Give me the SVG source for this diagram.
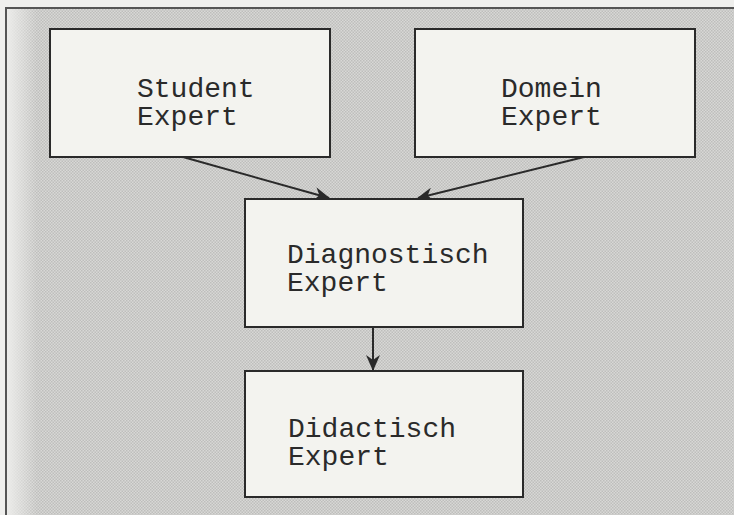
<svg xmlns="http://www.w3.org/2000/svg" width="734" height="515" viewBox="0 0 734 515">
  <style>
    .box { fill: #f3f3ef; stroke: #2a2a2a; stroke-width: 2; }
    .lbl { font-family: "Liberation Mono", "Courier New", monospace; font-size: 28px; fill: #2a2a2a; }
    .conn { stroke: #2a2a2a; stroke-width: 2; fill: none; marker-end: url(#arr); }
  </style>
  <defs>
    <marker id="arr" viewBox="0 0 16 14" refX="15" refY="7" markerWidth="16" markerHeight="14" markerUnits="userSpaceOnUse" orient="auto">
      <path d="M0,0 L16,7 L0,14 L5,7 Z" fill="#2a2a2a"/>
    </marker>
    <pattern id="dots" width="3" height="3" patternUnits="userSpaceOnUse">
      <rect width="3" height="3" fill="#d8d8d6"/>
      <rect width="1.5" height="1.5" fill="#bebebc"/>
      <rect x="1.5" y="1.5" width="1.5" height="1.5" fill="#bebebc"/>
    </pattern>
    <linearGradient id="leftfade" x1="0" y1="0" x2="1" y2="0">
      <stop offset="0" stop-color="#ececea" stop-opacity="1"/>
      <stop offset="1" stop-color="#ececea" stop-opacity="0"/>
    </linearGradient>
  </defs>

  <rect x="0" y="0" width="734" height="515" fill="#efefed"/>
  <rect x="6" y="8" width="740" height="520" fill="url(#dots)"/>
  <rect x="7" y="9" width="30" height="515" fill="url(#leftfade)"/>
  <path d="M6,520 V8 H740" fill="none" stroke="#555" stroke-width="2"/>

  <g id="connectors">
    <line class="conn" x1="183" y1="157" x2="329" y2="198"/>
    <line class="conn" x1="584" y1="157" x2="418" y2="198"/>
    <line class="conn" x1="373" y1="327" x2="373" y2="370"/>
  </g>

  <g id="student">
    <rect class="box" x="50" y="29" width="280" height="128"/>
    <text class="lbl" x="137" y="97">Student</text>
    <text class="lbl" x="137" y="125">Expert</text>
  </g>
  <g id="domein">
    <rect class="box" x="415" y="29" width="280" height="128"/>
    <text class="lbl" x="501" y="97">Domein</text>
    <text class="lbl" x="501" y="125">Expert</text>
  </g>
  <g id="diagnostisch">
    <rect class="box" x="245" y="199" width="278" height="128"/>
    <text class="lbl" x="287" y="263">Diagnostisch</text>
    <text class="lbl" x="287" y="291">Expert</text>
  </g>
  <g id="didactisch">
    <rect class="box" x="245" y="371" width="278" height="126"/>
    <text class="lbl" x="288" y="437">Didactisch</text>
    <text class="lbl" x="288" y="465">Expert</text>
  </g>
</svg>
